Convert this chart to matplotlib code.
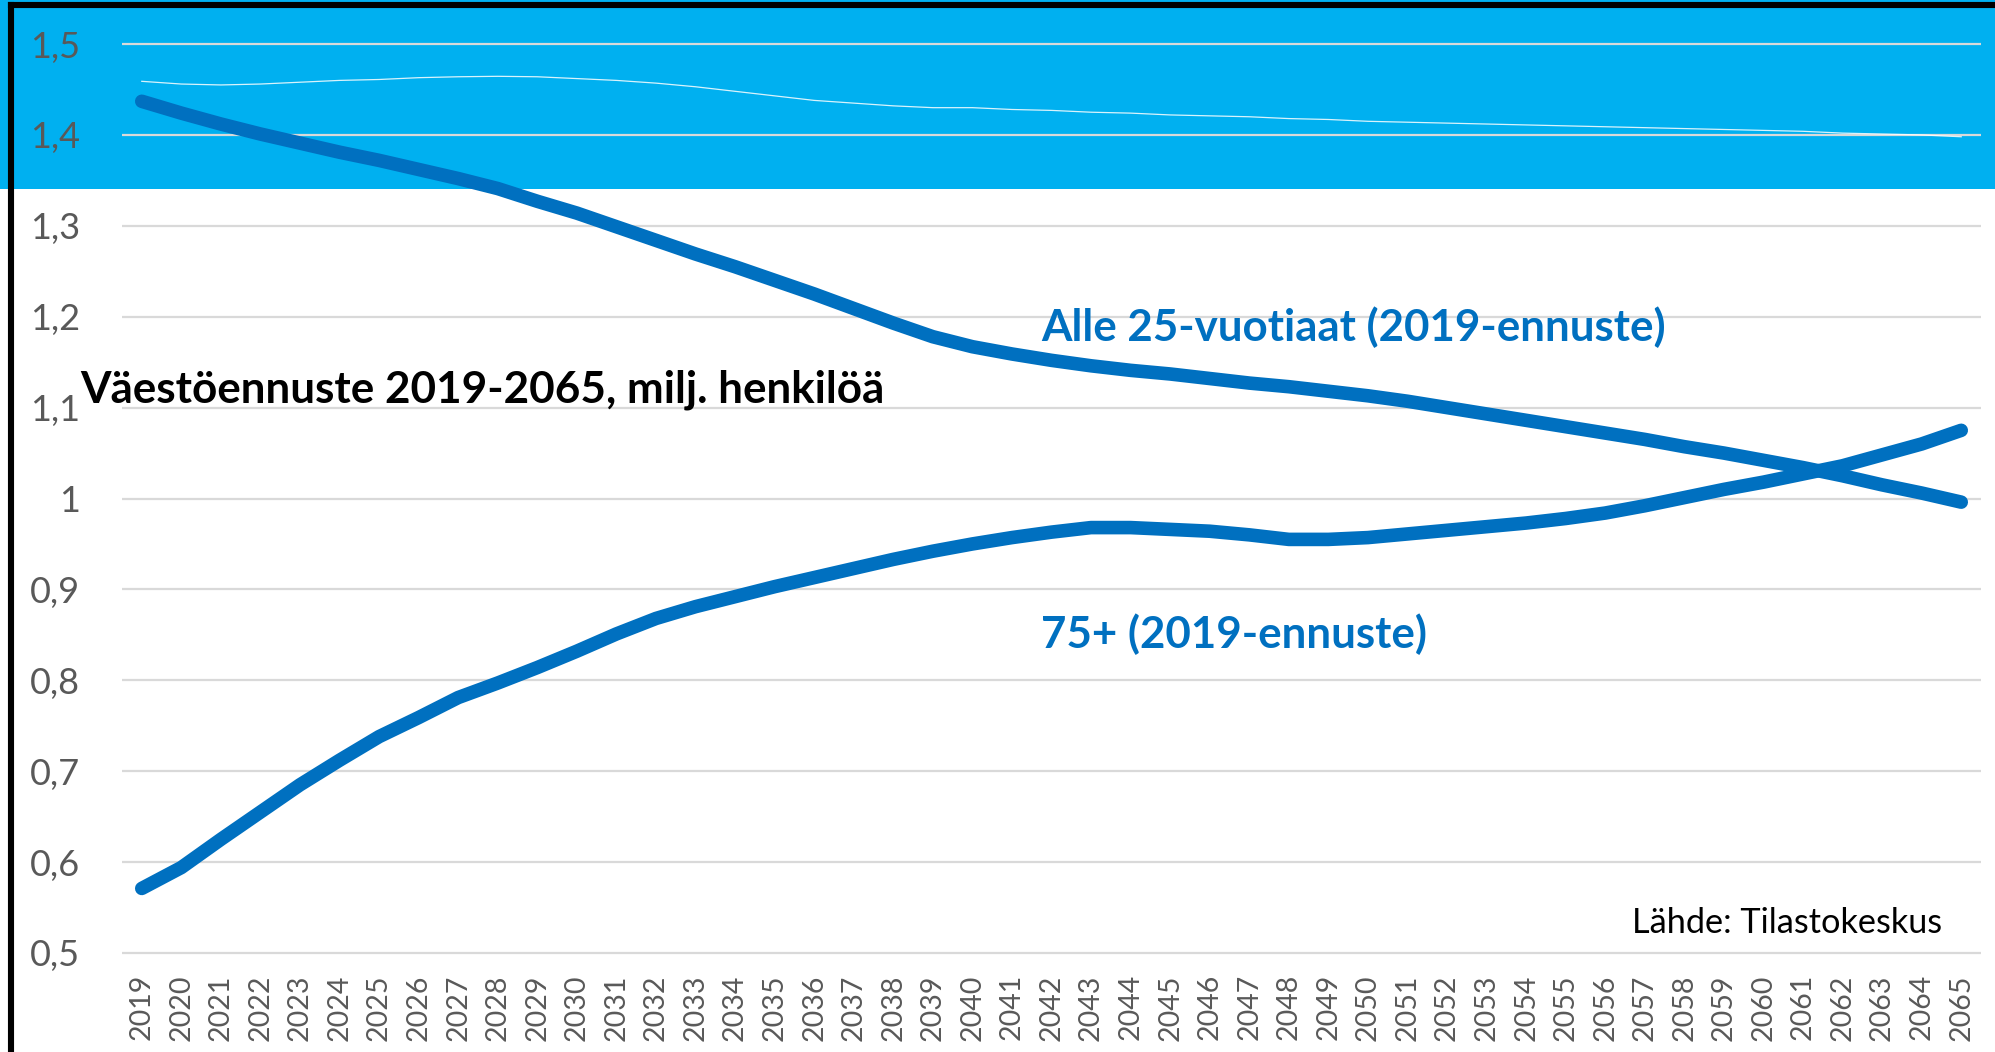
import matplotlib
matplotlib.use('Agg')
import matplotlib.pyplot as plt
from matplotlib.lines import Line2D
from matplotlib.patches import Rectangle

years = [str(y) for y in range(2019, 2066)]

# Alle 25-vuotiaat (2019-ennuste), milj.
alle25 = [1.437, 1.424, 1.412, 1.401, 1.391, 1.381, 1.372, 1.362, 1.352, 1.341,
          1.327, 1.314, 1.299, 1.284, 1.269, 1.255, 1.240, 1.225, 1.209, 1.193,
          1.178, 1.167, 1.159, 1.152, 1.146, 1.141, 1.137, 1.132, 1.127, 1.123,
          1.118, 1.113, 1.107, 1.100, 1.093, 1.086, 1.079, 1.072, 1.065, 1.057,
          1.050, 1.042, 1.034, 1.025, 1.015, 1.006, 0.996]

# 75+ (2019-ennuste), milj.
yli75 = [0.571, 0.594, 0.625, 0.655, 0.685, 0.712, 0.738, 0.759, 0.781, 0.797,
         0.814, 0.832, 0.851, 0.868, 0.881, 0.892, 0.903, 0.913, 0.923, 0.933,
         0.942, 0.950, 0.957, 0.963, 0.968, 0.968, 0.966, 0.964, 0.960, 0.955,
         0.955, 0.957, 0.961, 0.965, 0.969, 0.973, 0.978, 0.984, 0.992, 1.001,
         1.010, 1.018, 1.027, 1.036, 1.048, 1.060, 1.075]

# faint line inside the blue band
ohut = [1.459, 1.456, 1.455, 1.456, 1.458, 1.460, 1.461, 1.463, 1.464, 1.4645,
        1.464, 1.462, 1.460, 1.457, 1.453, 1.448, 1.443, 1.438, 1.435, 1.432,
        1.430, 1.430, 1.428, 1.427, 1.425, 1.424, 1.422, 1.421, 1.420, 1.418,
        1.417, 1.415, 1.414, 1.413, 1.412, 1.411, 1.410, 1.409, 1.408, 1.407,
        1.406, 1.405, 1.404, 1.402, 1.401, 1.400, 1.398]

yticks = [0.5, 0.6, 0.7, 0.8, 0.9, 1.0, 1.1, 1.2, 1.3, 1.4, 1.5]
ylabels = ['0,5', '0,6', '0,7', '0,8', '0,9', '1', '1,1', '1,2', '1,3', '1,4', '1,5']

W, H = 1995., 1052.
plt.rcParams['font.family'] = ['Lato', 'DejaVu Sans']

fig = plt.figure(figsize=(W / 100, H / 100), dpi=100)
fig.patch.set_facecolor('white')

# blue band on top
fig.patches.append(Rectangle((0, 1 - 189 / H), 1, 189 / H, transform=fig.transFigure,
                             facecolor='#00B0F0', edgecolor='none', zorder=0))

ax = fig.add_axes([122 / W, 1 - 957.5 / H, (1981 - 122) / W, 918 / H])
ax.set_facecolor('none')
ax.set_zorder(2)

x = list(range(len(years)))
ax.plot(x, ohut, color='white', lw=0.9, alpha=0.85, zorder=3)
ax.plot(x, alle25, color='#0070C0', lw=9.8, solid_capstyle='round',
        solid_joinstyle='round', zorder=4)
ax.plot(x, yli75, color='#0070C0', lw=9.8, solid_capstyle='round',
        solid_joinstyle='round', zorder=4)

ax.set_xlim(-0.5, len(years) - 0.5)
ax.set_ylim(0.495, 1.505)
ax.set_yticks(yticks)
ax.set_yticklabels(ylabels)
ax.set_xticks(x)
ax.set_xticklabels(years, rotation=90)
ax.yaxis.grid(True, color='#D9D9D9', lw=1.6)
ax.set_axisbelow(True)
for s in ax.spines.values():
  s.set_visible(False)
ax.tick_params(axis='y', length=0, pad=30, labelsize=26, labelcolor='#595959')
ax.tick_params(axis='x', length=0, pad=12, labelsize=20.5, labelcolor='#595959')

# texts
fig.text(80 / W, 1 - 402 / H, 'Väestöennuste 2019-2065, milj. henkilöä',
         fontsize=31.7, fontweight='bold', color='black', ha='left', va='baseline', zorder=5)
fig.text(1041 / W, 1 - 327 / H, 'Alle 25-vuotiaat (2019-ennuste)',
         fontsize=31.6, fontweight='bold', color='#0070C0', ha='left', va='center', zorder=5)
fig.text(1041 / W, 1 - 634 / H, '75+ (2019-ennuste)',
         fontsize=31.6, fontweight='bold', color='#0070C0', ha='left', va='center', zorder=5)
fig.text(1632 / W, 1 - 923 / H, 'Lähde: Tilastokeskus',
         fontsize=24.7, color='black', ha='left', va='center', zorder=5)

# black frame, left and top
fig.lines.append(Line2D([11 / W, 11 / W], [0, 1 - 5 / H], transform=fig.transFigure,
                        color='black', lw=4.4, solid_capstyle='projecting', zorder=6))
fig.lines.append(Line2D([11 / W, 1], [1 - 5 / H, 1 - 5 / H], transform=fig.transFigure,
                        color='black', lw=4.4, solid_capstyle='projecting', zorder=6))

plt.savefig('out.png', dpi=100)
